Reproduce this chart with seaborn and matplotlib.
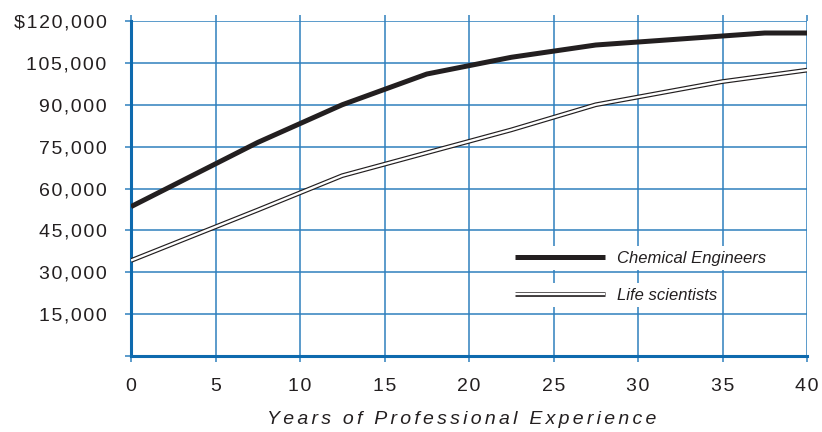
import matplotlib
matplotlib.use("Agg")
import matplotlib.pyplot as plt
import matplotlib.patheffects as pe
import seaborn as sns
import pandas as pd

# Salary by years of professional experience
chem_years = [0, 7.5, 12.5, 17.5, 22.5, 27.5, 37.5, 40]
chem_salary = [53500, 76500, 90000, 101000, 107000, 111400, 115700, 115700]

life_years = [0, 7.5, 12.5, 22.5, 27.5, 35, 40]
life_salary = [34200, 52300, 64600, 81000, 90000, 98300, 102400]

series_names = ["Chemical Engineers", "Life scientists"]
x_ticks = [0, 5, 10, 15, 20, 25, 30, 35, 40]
y_ticks = [0, 15000, 30000, 45000, 60000, 75000, 90000, 105000, 120000]
y_tick_labels = ["", "15,000", "30,000", "45,000", "60,000", "75,000",
                 "90,000", "105,000", "$120,000"]
x_label = "Years of Professional Experience"

INK = "#231f20"
GRID = "#2f80bd"
SPINE = "#0e6aae"
HAIR = "\u200a"


def spaced(s, n=1):
    return (HAIR * n).join(s)


sns.set_theme(style="white")
plt.rcParams["font.family"] = ["Liberation Sans", "DejaVu Sans"]

fig = plt.figure(figsize=(8.22, 4.32), dpi=100)
ax = fig.add_axes([131 / 822, 76 / 432, 676 / 822, 335 / 432])

chem = pd.DataFrame({"years": chem_years, "salary": chem_salary})
life = pd.DataFrame({"years": life_years, "salary": life_salary})

sns.lineplot(data=chem, x="years", y="salary", ax=ax, color=INK, linewidth=3.6,
             errorbar=None, solid_capstyle="butt", label=series_names[0],
             legend=False, zorder=5)
sns.lineplot(data=life, x="years", y="salary", ax=ax, color="white", linewidth=1.7,
             errorbar=None, solid_capstyle="butt", label=series_names[1],
             legend=False, zorder=5,
             path_effects=[pe.Stroke(linewidth=3.4, foreground=INK), pe.Normal()])

ax.set_xlim(0, 40)
ax.set_ylim(0, 120000)
ax.set_xticks(x_ticks)
ax.set_xticklabels([spaced(str(t)) for t in x_ticks])
ax.set_yticks(y_ticks)
ax.set_yticklabels([spaced(s) for s in y_tick_labels])

ax.grid(True, color=GRID, linewidth=1.1)
ax.set_axisbelow(True)
ax.tick_params(axis="both", which="both", direction="out", color=GRID, width=1.1,
               labelsize=14, labelcolor=INK)
ax.tick_params(axis="x", length=4.5, pad=11, top=True, bottom=True, labeltop=False)
ax.tick_params(axis="y", length=4.5, pad=13, left=True)

for side in ["top", "right"]:
    ax.spines[side].set_visible(False)
ax.spines["left"].set_color(SPINE)
ax.spines["left"].set_linewidth(2.2)
ax.spines["bottom"].set_color(SPINE)
ax.spines["bottom"].set_linewidth(2.2)
ax.spines["bottom"].set_bounds(0, 40)

ax.set_xlabel(spaced(x_label, 2), fontsize=14, style="italic", color=INK, labelpad=11)
ax.xaxis.set_label_coords(0.489, -0.165)
ax.set_ylabel("")

# One legend box per entry so the gridline between them stays visible
handles = ax.get_lines()[:2]
anchors = [(0.562, 0.2925), (0.562, 0.182)]
for h, name, anchor in zip(handles, series_names, anchors):
    leg = ax.legend(handles=[h], labels=[name], loc="center left",
                    bbox_to_anchor=anchor, frameon=True, fancybox=False,
                    facecolor="white", edgecolor="none", framealpha=1,
                    borderaxespad=0, borderpad=0.25, handlelength=5.4,
                    handletextpad=0.7, prop={"size": 12, "style": "italic"})
    for t in leg.get_texts():
        t.set_color(INK)
    leg.set_zorder(6)
    ax.add_artist(leg)

fig.savefig("out.png", dpi=100)
